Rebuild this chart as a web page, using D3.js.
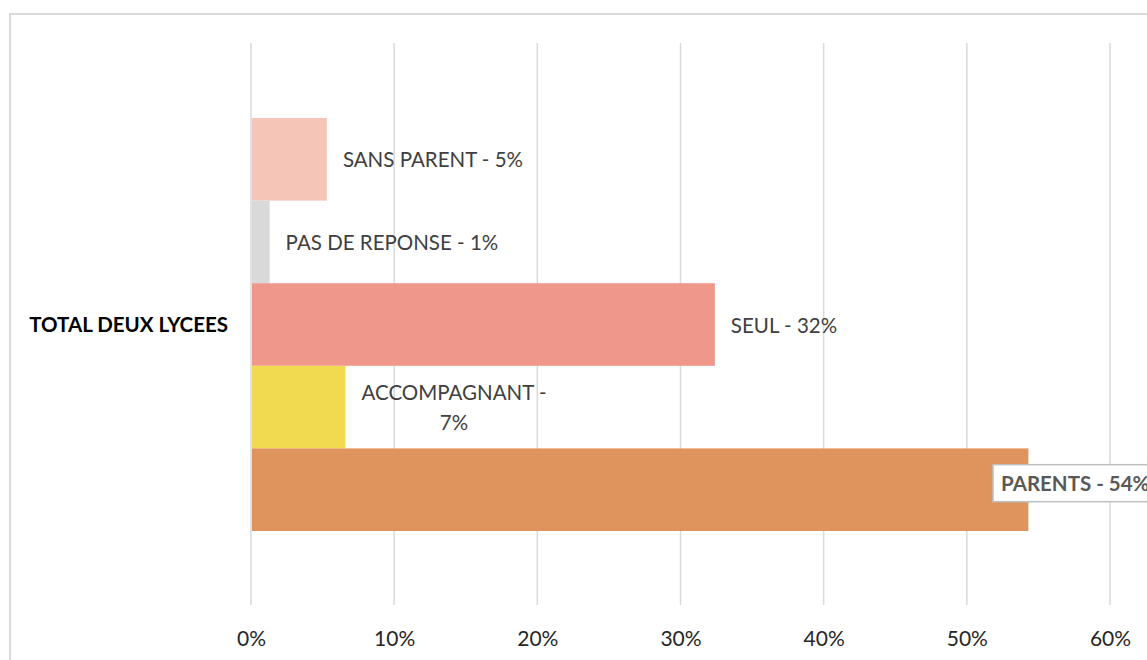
<!DOCTYPE html>
<html>
<head>
<meta charset="utf-8">
<script src="https://cdn.jsdelivr.net/npm/d3@7"></script>
<style>
  body { margin: 0; background: #fff; }
  text { font-family: Lato, "Open Sans", sans-serif; }
</style>
</head>
<body>
<div id="chart"></div>
<script>
var w = 1147;
var h = 660;

// data (top to bottom)
var categories = ['SANS PARENT', 'PAS DE REPONSE', 'SEUL', 'ACCOMPAGNANT', 'PARENTS'];
var values = [5.3, 1.3, 32.4, 6.6, 54.3];
var colors = ['#F5C6B7', '#D9D9D9', '#EF978A', '#F1DA50', '#DF945D'];
var groupLabel = 'TOTAL DEUX LYCEES';
var tickValues = [0, 10, 20, 30, 40, 50, 60];

var svg = d3.select('#chart')
  .append('svg')
    .attr('width', w)
    .attr('height', h);

// chart frame
svg.append('rect')
  .attr('x', 10)
  .attr('y', 14)
  .attr('width', w + 20)
  .attr('height', h + 20)
  .attr('fill', '#fff')
  .attr('stroke', '#D9D9D9')
  .attr('stroke-width', 2);

// scales
var x = d3.scaleLinear()
  .domain([0, 60])
  .range([251, 1110]);

var y = d3.scaleBand()
  .domain(categories)
  .range([118, 531])
  .padding(0);

// gridlines
svg.selectAll('.grid')
  .data(tickValues)
  .enter()
  .append('line')
    .attr('class', 'grid')
    .attr('x1', function(d) { return x(d); })
    .attr('x2', function(d) { return x(d); })
    .attr('y1', 43)
    .attr('y2', 605)
    .attr('stroke', '#D9D9D9')
    .attr('stroke-width', 1.5);

// x axis labels
var xAxis = d3.axisBottom(x)
  .tickValues(tickValues)
  .tickSize(0)
  .tickPadding(0)
  .tickFormat(function(d) { return d + '%'; });

var axisG = svg.append('g')
  .attr('transform', 'translate(0, 637)')
  .call(xAxis);
axisG.select('.domain').remove();
axisG.selectAll('text')
  .attr('font-family', 'Lato, "Open Sans", sans-serif')
  .attr('font-size', 21)
  .attr('fill', '#262626')
  .attr('dy', null)
  .attr('dominant-baseline', 'central');

// bars
svg.selectAll('.bar')
  .data(categories)
  .enter()
  .append('rect')
    .attr('class', 'bar')
    .attr('x', x(0) + 1)
    .attr('y', function(d) { return y(d); })
    .attr('width', function(d, i) { return x(values[i]) - x(0) - 1; })
    .attr('height', y.bandwidth())
    .attr('fill', function(d, i) { return colors[i]; });

// category label
svg.append('text')
  .text(groupLabel)
  .attr('x', 228)
  .attr('y', 324)
  .attr('text-anchor', 'end')
  .attr('dominant-baseline', 'central')
  .attr('font-size', 20.5)
  .attr('font-weight', 'bold')
  .attr('fill', '#000');

// data labels
var maxLabelW = 218;
categories.forEach(function(c, i) {
  var label = c + ' - ' + Math.round(values[i]) + '%';
  var cy = y(c) + y.bandwidth() / 2;
  var last = i === categories.length - 1;

  if (last) {
    // boxed bold label, pushed back inside the plot
    var bx = Math.min(x(values[i]) + 16, 993);
    var by = cy - 7;
    var g = svg.append('g');
    var box = g.append('rect')
      .attr('x', bx)
      .attr('y', by - 18)
      .attr('height', 37)
      .attr('fill', '#fff')
      .attr('stroke', '#BFBFBF')
      .attr('stroke-width', 1.5);
    var t = g.append('text')
      .text(label)
      .attr('x', bx + 8)
      .attr('y', by)
      .attr('dominant-baseline', 'central')
      .attr('font-size', 20.5)
      .attr('font-weight', 'bold')
      .attr('fill', '#595959');
    box.attr('width', t.node().getComputedTextLength() + 16);
    return;
  }

  var t = svg.append('text')
    .attr('font-size', 20.5)
    .attr('fill', '#404040')
    .text(label);
  var tw = t.node().getComputedTextLength();
  var lx = x(values[i]) + 16;

  if (tw <= maxLabelW) {
    t.attr('x', lx).attr('y', cy).attr('dominant-baseline', 'central');
  } else {
    // wrap onto two centred lines
    var words = label.split(' ');
    var line1 = words.slice(0, -1).join(' ');
    var line2 = words[words.length - 1];
    t.text(null);
    var t1 = t.append('tspan').text(line1);
    var w1 = t1.node().getComputedTextLength();
    var mid = lx + w1 / 2;
    t.attr('text-anchor', 'middle');
    t1.attr('x', mid).attr('y', cy - 15).attr('dominant-baseline', 'central');
    t.append('tspan').text(line2)
      .attr('x', mid).attr('y', cy + 15).attr('dominant-baseline', 'central');
  }
});
</script>
</body>
</html>
